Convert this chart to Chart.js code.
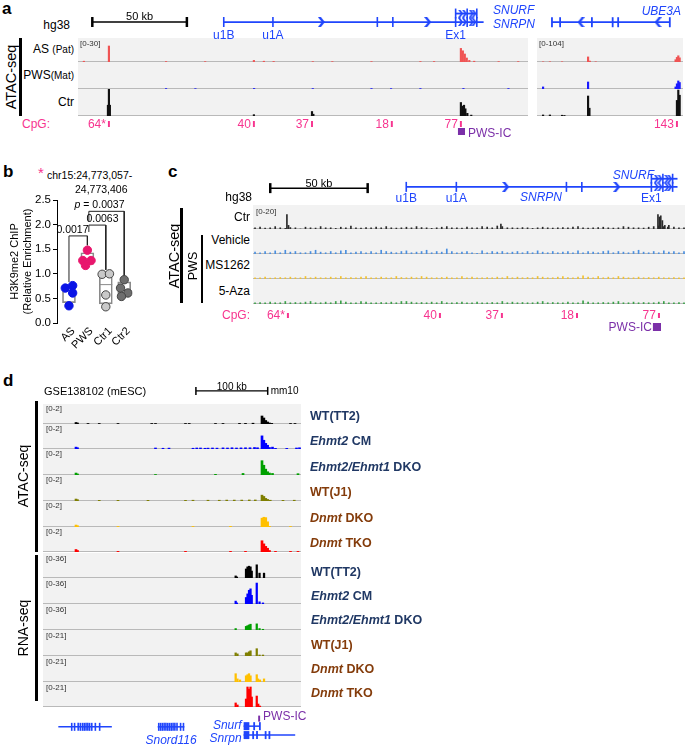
<!DOCTYPE html>
<html><head><meta charset="utf-8">
<script src="https://cdn.jsdelivr.net/npm/chart.js@4.4.1/dist/chart.umd.min.js"></script>
<style>
body{margin:0;background:#fff;}
#root{position:relative;width:685px;height:745px;overflow:hidden;font-family:Arial,"Liberation Sans",Helvetica,sans-serif;color:#000;}
.t{position:absolute;white-space:nowrap;line-height:1;z-index:2;}
canvas{position:absolute;z-index:1;}
</style></head>
<body><div id="root"></div>
<script>
// ================= DATA =================
// ---- panel a (hg38, kb from left edge of each window) ----
const aLeftDomain = [0, 230];
const aRightDomain = [0, 74.6];
const aScaleBarKb = [3.6, 53.6];
const aSnrpnSpan = [73.1, 210.5];
const aSnrpnExons = [73.1, 99.1, 154.3, 162.5, 195.7, 201.8, 206.9];
const aSnrpnArrows = [124.7, 180.9];
const aSnrpnSmallArrows = [198.3, 200.3, 203.9, 205.4];
const aSnurfSpan = [195.7, 206.9];
const aSnurfExons = [195.7, 201.8, 206.9];
const aSnurfSmallArrows = [198.3, 200.3, 203.9, 205.4];
const aUbe3aSpan = [4.6, 71];
const aUbe3aExons = [4.6, 9.2, 27.1, 38.8, 41.9, 71];
const aUbe3aArrows = [21, 64.4];
const aTrackNames = ['AS <span style="font-size:10px">(Pat)</span>', 'PWS<span style="font-size:10px">(Mat)</span>', 'Ctr'];
const aLeftMax = 30, aRightMax = 104;
const aAS_L = [[3,1],[15.8,20],[45,0.6],[65,0.5],[89.9,2],[95,1],[100,0.7],[120,0.5],[130,0.5],[150,0.5],[175,0.6],[182,0.6],[195.7,17],[196.7,14],[197.7,10],[198.7,5],[200,2],[202.5,1],[215,0.5],[225,0.5]];
const aAS_R = [[3.1,0.8],[6.6,1],[12.8,1],[26.1,22],[27,4],[30,1],[70.8,10],[71.5,20],[72.2,27],[72.9,18]];
const aPWS_L = [[45,0.5],[60,0.4],[90,0.6],[120,0.5],[150,0.5],[160,0.4],[175,0.5],[197,0.6],[220,0.5]];
const aPWS_R = [[3.1,8],[26.1,27],[70.8,8],[71.5,20],[72.2,31],[72.9,25]];
const aCtr_L = [[15.3,12],[15.8,30],[16.3,12],[89.9,1.5],[119.6,5],[120.3,2],[195.7,15],[196.5,11],[197.3,12],[198,8],[199,3],[201,1]];
const aCtr_R = [[3.1,4],[6.6,4],[12.8,3],[14,2],[26.1,77],[26.8,30],[71.5,60],[72.2,100],[72.9,80]];
const aCpG_L = [[15.3,16.3],[89.4,90.4],[119.1,120.1],[159.9,160.9],[195.2,196.2]];
const aCpGLabels_L = ['64*','40','37','18','77'];
const aCpG_R = [[71,72]];
const aCpGLabels_R = ['143'];
const aPwsIc = [194.2, 197.8];

// ---- panel b (H3K9me2 ChIP, relative enrichment) ----
const bCats = ['AS', 'PWS', 'Ctr1', 'Ctr2'];
const bAS   = [0.71, 0.76, 0.61, 0.35];
const bPWS  = [1.48, 1.27, 1.27, 1.17];
const bCtr1 = [0.99, 1.00, 0.57, 0.33];
const bCtr2 = [0.88, 0.71, 0.61, 0.54];
const bJitter = [[-0.2, 0.2, 0.2, 0], [0, -0.25, 0.2, -0.1], [-0.2, 0.2, 0, 0], [0, -0.2, 0.2, -0.15]];
const bColors = ['#0a14e6', '#e8176d', '#c9c9c9', '#6e6e6e'];
const bYTicks = [0, 0.5, 1.0, 1.5, 2.0, 2.5];
const bPvals = ['0.0017', '0.0063', '<i>p</i> = 0.0037'];
const bPairs = [[0, 1], [1.08, 2], [1.08, 3]];
const bBracketTop = [1.77, 1.99, 2.27];
const bBracketEnds = [[0.83, 1.58], [1.85, 1.08], [2.07, 0.96]];
const bLabelX = [0.19, 1.82, 1.66];

// ---- panel c (hg38) ----
const cDomain = [0, 214];
const cScaleBarKb = [5, 55];
const cSnrpnSpan = [74.8, 214];
const cSnrpnExons = [74.8, 100.5, 157, 164.9, 200.6, 206.5, 211.5];
const cSnrpnArrows = [125.8, 182.8];
const cSnrpnSmallArrows = [203.1, 205, 208.5, 210];
const cSnurfSpan = [200.6, 214];
const cSnurfExons = [200.6, 206.5, 211.5];
const cSnurfSmallArrows = [203.1, 205, 208.5, 210];
const cTrackNames = ['Ctr', 'Vehicle', 'MS1262', '5-Aza'];
const cMax = 20;
const cNoiseStep = 2.5;
const cCtrNoise = [1,1.5,0.8,1,2,1,0.5,1.2,1,0,1.5,1,0.8,2,1,1,0.5,1.5,1,2.5,1,0.8,1.2,1,1.5,1,2,1,0.8,1,1.5,1,2,1.2,1,0.5,1,1.5,2,1,1,0.8,1.5,1,1,2,1.5,1,2.5,2,1,1,0.8,1.2,1,0.5,1,1.5,1,0.8,1,1.2,1,1.5,2,1,0.8,1,1.2,1.5,1,0.8,1,2,1.5,1,1,0.8,1.5,2,2.5,2,3,1.5,1,1];
const cVehNoise = [1.5,1,2,1,2.5,1,3,1.5,2,1,1,2,3,1.5,1,2,1,2.5,3,1,1.5,2,1,2,1,3,2,1.5,1,2,2.5,1,1.5,2,3,1,2,1.5,4,2,1,1.5,2,1,0.5,2.5,1,2,1.5,2,1,1.5,2,1,2,1,2.5,1.5,1,2,1,1.5,2,1,2.5,1,2,1.5,1,2,2.5,1,2,1.5,1,2,3,1.5,1,2,1,2.5,1.5,2,1,2];
const cMSNoise = [1,1,1.5,0.8,1,1.2,1,1.5,1,1,2,1,1.5,1,1,1.5,1,2,1,1.2,1,1.5,2,1,1,1.5,1,1,2,1.2,1,1.5,1,2,1.5,1,1,1.2,1.5,1,1,2,1,1.5,1,1,1.2,1,1.5,1,2,1,1.5,1,1.2,1,2,1.5,1,1,1.5,2,1.2,1,1.5,2.5,1.5,1,2,1,1.5,1,2,1.5,1,1,1.5,1,1.2,1,1.5,1,1,1.2,1,1];
const cAzaNoise = [1,1.2,1,1.5,1,1,2,1,1.2,1,1.5,2,1,1,1.5,1,2,2.5,1.5,1,1,2,1.5,1,1,1.2,1,1.5,1,2,2,1.5,1,1.2,1,1.5,1,2,1,1,1.2,1.5,1,1,1.5,1,1,1.2,1,2,1,1.5,1,1.2,1,1,1.5,2,1,1.2,1,1,1.5,1,1,2.5,1.5,1,1,1.2,1,1.5,2,1,1,1.5,1,1.2,1,1,1.5,2,1,1,1.2,1];
const cCtrPeaks = [[16.8,12],[17.6,3],[122.8,4],[200.6,12],[201.3,10],[202,11],[202.8,7],[204,3],[205.5,1.5]];
const cCpG = [[16.8,17.8],[92.1,93.1],[122.8,123.8],[160,161],[200.6,201.6]];
const cCpGLabels = ['64*','40','37','18','77'];
const cPwsIc = [198.1, 202.1];

// ---- panel d (mm10) ----
const dDomain = [0, 344];
const dScaleBarKb = [205.3, 305.3];
const dAtacNames = ['WT(TT2)', '<i>Ehmt2</i> CM', '<i>Ehmt2/Ehmt1</i> DKO', 'WT(J1)', '<i>Dnmt</i> DKO', '<i>Dnmt</i> TKO'];
const dNameColors = ['#203864', '#203864', '#203864', '#843c0b', '#843c0b', '#843c0b'];
const dTrackColors = ['#000000', '#0000ff', '#00a000', '#7f7f00', '#ffc000', '#ff0000'];
const dAtacMax = 2;
const dRnaMax = [36, 36, 36, 21, 21, 21];
const dAtac = [
  [[44,0.15],[46,0.1],[60,0.05],[75,0.05],[100,0.05],[145,0.05],[150,0.05],[190,0.05],[195,0.05],[230,0.05],[240,0.05],[262,0.06],[270,0.06],[280,0.08],[292,0.8],[294.5,0.6],[297,0.35],[299.5,0.2],[302,0.1],[305,0.06],[330,0.05],[336,0.05]],
  [[44,0.15],[46,0.1],[150,0.08],[160,0.06],[168,0.07],[200,0.06],[205,0.08],[210,0.08],[216,0.06],[220,0.07],[226,0.08],[232,0.07],[240,0.09],[246,0.08],[252,0.1],[258,0.08],[264,0.09],[270,0.1],[276,0.1],[282,0.12],[286,0.1],[292,1.05],[294.5,0.7],[297,0.45],[299.5,0.3],[302,0.12],[306,0.15],[310,0.05],[325,0.05],[338,0.08],[342,0.1]],
  [[44,0.15],[46,0.08],[150,0.04],[230,0.05],[266.7,0.12],[292,1.1],[294.5,0.75],[297,0.45],[299.5,0.25],[302,0.15],[306,0.12],[340,0.1]],
  [[44,0.15],[46,0.1],[75,0.05],[100,0.05],[140,0.05],[190,0.05],[200,0.06],[220,0.06],[235,0.06],[245,0.07],[255,0.07],[265,0.07],[275,0.08],[283,0.08],[292,0.45],[294.5,0.35],[297,0.2],[299.5,0.12],[303,0.06],[320,0.05],[335,0.06]],
  [[44,0.15],[46,0.1],[100,0.04],[200,0.04],[250,0.05],[292,0.68],[294.5,0.75],[297,0.72],[299.5,0.4],[302,0.05],[330,0.04]],
  [[44,0.2],[46,0.12],[100,0.05],[190,0.05],[250,0.05],[270,0.05],[292,0.9],[294.5,0.65],[297,0.45],[299.5,0.3],[302,0.12],[310,0.05],[330,0.05],[340,0.05]]
];
const dRna = [
  [[256.9,3],[258.5,1.5],[270.7,13],[272.7,16],[274.7,17],[276.7,16],[278.3,10],[285,19],[288.7,7],[294.7,7]],
  [[256.9,4],[258.5,1.5],[270.7,9],[272.7,14],[274.7,19],[276.7,21],[278.3,12],[285,29],[288.7,3],[293.3,1.5]],
  [[256.9,2],[270.7,5],[272.7,6],[274.7,7],[276.7,8],[285,8.5],[288.7,2],[293.3,1]],
  [[256.9,2.5],[259.3,1.7],[270.7,2.5],[272.7,2.5],[274.7,3.4],[276.7,4.2],[285,5.9],[288.7,0.8],[293.3,0.8]],
  [[256.9,6.7],[259.3,2.5],[262.7,1.7],[270.7,5],[272.7,5.9],[274.7,6.7],[276.7,5],[285,5.9],[286.7,2.5],[289.3,1.7],[294.7,2.5]],
  [[256.9,3.4],[259.3,1.7],[270.7,6.7],[272.7,16.8],[274.7,15],[276.7,16.8],[278.3,8.4],[285,9.2],[287,2.5],[289.3,0.8]]
];
const dPwsIc = [292.3, 295];
const dGene1Span = [13.3, 88];
const dGene1Exons = [32, 36, 41, 44, 47, 49.5, 52, 54.5, 57, 60, 65, 71];
const dSnord116Span = [152, 189.3];
const dSnord116Exons = [153.5, 156, 158.5, 161, 163.5, 166, 168.5, 171, 173.5, 176, 179, 184, 188];
const dSnurfBlock = [272, 280], dSnurfSpan = [272, 294.7], dSnurfExons = [286.7, 294.7];
const dSnrpnBlock = [272, 280], dSnrpnSpan = [272, 344], dSnrpnExons = [285.3, 290.7, 302.7, 308];

// ================= STYLE / HELPERS =================
const BLUE = '#1f45fc', PINK = '#f7348f', PURPLE = '#7b2fa8';
Chart.defaults.font.family = 'Arial, "Liberation Sans", Helvetica, sans-serif';
Chart.defaults.plugins.legend.display = false;
Chart.defaults.plugins.tooltip.enabled = false;
Chart.defaults.animation = false;
const root = document.getElementById('root');

function T(x, y, html, o = {}) {
  const d = document.createElement('div'); d.className = 't'; d.innerHTML = html;
  d.style.left = x + 'px'; d.style.top = y + 'px'; d.style.fontSize = (o.fs || 12) + 'px';
  if (o.c) d.style.color = o.c; if (o.b) d.style.fontWeight = 'bold'; if (o.i) d.style.fontStyle = 'italic';
  const tx = o.a === 'r' ? '-100%' : (o.a === 'c' ? '-50%' : '0');
  if (o.rotEnd) { d.style.transformOrigin = '100% 50%'; d.style.transform = `translate(-100%,-50%) rotate(${o.rotEnd}deg)`; }
  else d.style.transform = o.rot ? `translate(-50%,-50%) rotate(${o.rot}deg)` : `translate(${tx},-50%)`;
  root.appendChild(d); return d;
}
function R(x, y, w, h, c) {
  const d = document.createElement('div');
  d.style.cssText = `position:absolute;left:${x}px;top:${y}px;width:${w}px;height:${h}px;background:${c};z-index:2`;
  root.appendChild(d);
}
function C(x, y, w, h, cfg) {
  const c = document.createElement('canvas'); c.width = w; c.height = h;
  c.style.left = x + 'px'; c.style.top = y + 'px'; c.style.width = w + 'px'; c.style.height = h + 'px';
  root.appendChild(c);
  cfg.options = Object.assign({ responsive: false, animation: false, devicePixelRatio: 1, events: [] }, cfg.options || {});
  const ch = new Chart(c, cfg); ch._x = x; ch._y = y; return ch;
}
const trackBg = { id: 'trackBg', beforeDatasetsDraw(chart, args, o) {
  const { ctx, chartArea: a } = chart; ctx.save();
  ctx.fillStyle = o.bg; ctx.fillRect(a.left, a.top, a.right - a.left, a.bottom - a.top);
  ctx.fillStyle = o.line; ctx.fillRect(a.left, a.bottom - 1, a.right - a.left, 1);
  ctx.restore(); } };
function track(x, y, w, h, dom, max, peaks, color, bt) {
  return C(x, y, w, h, { type: 'bar',
    data: { datasets: [{ data: peaks.map(p => ({ x: p[0], y: Math.min(p[1], max) })), backgroundColor: color, barThickness: bt || 1.5 }] },
    options: { layout: { padding: 0 }, scales: { x: { type: 'linear', offset: false, min: dom[0], max: dom[1], display: false }, y: { min: 0, max: max, display: false } },
      plugins: { trackBg: { bg: '#f2f2f2', line: '#b9b9b9' } } },
    plugins: [trackBg] });
}
function chevron(color, dir, w, h, t) {
  const c = document.createElement('canvas'); c.width = w; c.height = h; const g = c.getContext('2d'); g.fillStyle = color; g.beginPath();
  if (dir > 0) { g.moveTo(0, 0); g.lineTo(t, 0); g.lineTo(w, h / 2); g.lineTo(t, h); g.lineTo(0, h); g.lineTo(w - t, h / 2); }
  else { g.moveTo(w, 0); g.lineTo(w - t, 0); g.lineTo(0, h / 2); g.lineTo(w - t, h); g.lineTo(w, h); g.lineTo(t, h / 2); }
  g.closePath(); g.fill(); return c;
}
const chevR = chevron(BLUE, 1, 7, 10, 3), chevL = chevron(BLUE, -1, 7, 10, 3), chevS = chevron(BLUE, 1, 5, 8, 2.2);
const segDS = (x0, x1, lane, color, width) => ({ type: 'line', data: [{ x: x0, y: lane }, { x: x1, y: lane }], borderColor: color, borderWidth: width, pointRadius: 0, borderCapStyle: 'butt', clip: false });
const tickDS = (xs, lane, color, half, width) => ({ type: 'scatter', data: xs.map(v => ({ x: v, y: lane })), pointStyle: 'line', rotation: 90, radius: half, borderColor: color, borderWidth: width, clip: false });
const chevDS = (xs, lane, img) => ({ type: 'scatter', data: xs.map(v => ({ x: v, y: lane })), pointStyle: img, radius: 3, clip: false });
function annot(x, y, w, h, dom, ds) {
  return C(x, y, w, h, { type: 'scatter', data: { datasets: ds },
    options: { layout: { padding: 0 }, scales: { x: { type: 'linear', min: dom[0], max: dom[1], display: false }, y: { type: 'linear', min: 0, max: h, reverse: true, display: false } } } });
}
const px = (ch, v) => ch._x + ch.scales.x.getPixelForValue(v);

// ================= PANEL a =================
T(2, 8, 'a', { fs: 17, b: 1 });
T(70, 25, 'hg38', { a: 'r', fs: 12 });
const gaL = annot(78, 0, 450, 38, aLeftDomain, [
  segDS(aScaleBarKb[0], aScaleBarKb[1], 24, '#000', 1.5), tickDS(aScaleBarKb, 24, '#000', 5, 2.5),
  segDS(aSnrpnSpan[0], aSnrpnSpan[1], 24, BLUE, 1.8), tickDS(aSnrpnExons, 24, BLUE, 5, 1.6), chevDS(aSnrpnArrows, 24, chevR), chevDS(aSnrpnSmallArrows, 24, chevS),
  segDS(aSnurfSpan[0], aSnurfSpan[1], 10, BLUE, 1.8), tickDS(aSnurfExons, 10, BLUE, 5, 1.6), chevDS(aSnurfSmallArrows, 10, chevS)
]);
const gaR = annot(537, 0, 146, 38, aRightDomain, [
  segDS(aUbe3aSpan[0], aUbe3aSpan[1], 24, BLUE, 1.8), tickDS(aUbe3aExons, 24, BLUE, 5, 1.8), chevDS(aUbe3aArrows, 24, chevL)
]);
T((px(gaL, aScaleBarKb[0]) + px(gaL, aScaleBarKb[1])) / 2, 16, '50 kb', { a: 'c', fs: 11 });
T(px(gaL, aSnrpnExons[0]), 35, 'u1B', { a: 'c', c: BLUE, fs: 12 });
T(px(gaL, aSnrpnExons[1]), 35, 'u1A', { a: 'c', c: BLUE, fs: 12 });
T(px(gaL, aSnrpnExons[4]), 35, 'Ex1', { a: 'c', c: BLUE, fs: 12 });
T(493, 10, 'SNURF', { c: BLUE, i: 1, fs: 12 });
T(493, 24, 'SNRPN', { c: BLUE, i: 1, fs: 12 });
T(681, 11, 'UBE3A', { a: 'r', c: BLUE, i: 1, fs: 12 });
const aTops = [38, 62, 89], aHs = [24, 27, 27];
const aL = [aAS_L, aPWS_L, aCtr_L], aR = [aAS_R, aPWS_R, aCtr_R], aCols = ['#f05454', '#1a1aff', '#111111'];
aTops.forEach((t, i) => {
  track(78, t, 450, aHs[i], aLeftDomain, aLeftMax, aL[i], aCols[i], 1.5);
  track(537, t, 146, aHs[i], aRightDomain, aRightMax, aR[i], aCols[i], 1.5);
  T(74, t + aHs[i] / 2 - 1, aTrackNames[i], { a: 'r', fs: 12 });
});
T(80, 44, '[0-30]', { fs: 8, c: '#333' });
T(539, 44, '[0-104]', { fs: 8, c: '#333' });
T(11, 77, 'ATAC-seq', { rot: -90, fs: 14.5 });
R(19, 38, 2.5, 78, '#000');
const caL = annot(78, 116, 450, 24, aLeftDomain, [...aCpG_L.map(s => segDS(s[0], s[1], 8, PINK, 6)), segDS(aPwsIc[0], aPwsIc[1], 15.5, PURPLE, 7)]);
const caR = annot(537, 116, 146, 24, aRightDomain, aCpG_R.map(s => segDS(s[0], s[1], 8, PINK, 6)));
T(22, 124, 'CpG:', { c: PINK, fs: 12 });
aCpG_L.forEach((s, i) => T(px(caL, s[0]) - 2, 124, aCpGLabels_L[i], { a: 'r', c: PINK, fs: 12 }));
aCpG_R.forEach((s, i) => T(px(caR, s[0]) - 2, 124, aCpGLabels_R[i], { a: 'r', c: PINK, fs: 12 }));
T(px(caL, aPwsIc[1]) + 3, 133, 'PWS-IC', { c: PURPLE, fs: 12 });

// ================= PANEL b =================
T(3, 171, 'b', { fs: 17, b: 1 });
T(38, 172, '*', { c: PINK, fs: 15 });
T(47, 175, 'chr15:24,773,057-', { fs: 10.5 });
T(75, 189, '24,773,406', { fs: 10.5 });
function quart(arr, p) {
  const s = [...arr].sort((a, b) => a - b), n = s.length, pos = p * (n + 1) - 1, lo = Math.floor(pos), f = pos - lo;
  if (lo < 0) return s[0]; if (lo >= n - 1) return s[n - 1]; return s[lo] + f * (s[lo + 1] - s[lo]);
}
const bGroups = [bAS, bPWS, bCtr1, bCtr2];
const bDatasets = [
  { type: 'bar', data: bGroups.map((g, i) => ({ x: i, y: [quart(g, 0.25), quart(g, 0.75)] })), backgroundColor: 'rgba(255,255,255,0)', borderColor: '#8a8a8a', borderWidth: 1, borderSkipped: false, barThickness: 13, order: 3 },
  { type: 'scatter', data: bGroups.map((g, i) => ({ x: i, y: quart(g, 0.5) })), pointStyle: 'line', radius: 6.5, borderColor: '#8a8a8a', borderWidth: 1, order: 2 },
  ...bGroups.map((g, i) => ({ type: 'scatter', data: g.map((v, j) => ({ x: i + bJitter[i][j], y: v })), pointRadius: 4.2, backgroundColor: bColors[i], borderColor: i >= 2 ? '#444' : bColors[i], borderWidth: 1, order: 0 })),
  ...bPairs.map((p, k) => ({ type: 'line', data: [{ x: p[0], y: bBracketEnds[k][0] }, { x: p[0], y: bBracketTop[k] }, { x: p[1], y: bBracketTop[k] }, { x: p[1], y: bBracketEnds[k][1] }], borderColor: '#222', borderWidth: 1, pointRadius: 0, tension: 0, clip: false, order: 1 }))
];
const bChart = C(0, 190, 140, 155, { type: 'scatter', data: { datasets: bDatasets },
  options: { layout: { padding: { top: 10, right: 5, left: 0, bottom: 22 } },
    scales: {
      x: { type: 'linear', offset: false, min: -0.65, max: 3.45, display: false },
      y: { type: 'linear', offset: false, min: 0, max: 2.5, afterBuildTicks: s => { s.ticks = bYTicks.map(v => ({ value: v })); },
        ticks: { callback: v => v.toFixed(1), font: { size: 11.5 }, color: '#000', padding: 2 },
        grid: { drawOnChartArea: false, tickLength: 4, color: '#000' }, border: { display: true, color: '#000', width: 1 },
        title: { display: true, text: ['H3K9me2 ChIP', '(Relative Enrichment)'], font: { size: 11 }, color: '#000', padding: { top: 8, bottom: 0 } },
        afterFit: s => { s.width = 57; } }
    } } });
bPvals.forEach((lab, k) => {
  T(bChart._x + bChart.scales.x.getPixelForValue(bLabelX[k]), bChart._y + bChart.scales.y.getPixelForValue(bBracketTop[k]) - 7, lab, { a: 'c', fs: 10.5 });
});
bCats.forEach((c, i) => {
  T(bChart._x + bChart.scales.x.getPixelForValue(i) + 4, bChart._y + bChart.chartArea.bottom + 6, c, { rotEnd: -45, fs: 11 });
});

// ================= PANEL c =================
T(168, 171, 'c', { fs: 17, b: 1 });
T(252, 197, 'hg38', { a: 'r', fs: 12 });
const gc = annot(253, 165, 432, 40, cDomain, [
  segDS(cScaleBarKb[0], cScaleBarKb[1], 25, '#000', 1.5), tickDS(cScaleBarKb, 25, '#000', 5, 2.5),
  segDS(cSnrpnSpan[0], cSnrpnSpan[1], 23, BLUE, 1.8), tickDS(cSnrpnExons, 23, BLUE, 5, 1.6), chevDS(cSnrpnArrows, 23, chevR), chevDS(cSnrpnSmallArrows, 23, chevS),
  segDS(cSnurfSpan[0], cSnurfSpan[1], 10, BLUE, 1.8), tickDS(cSnurfExons, 10, BLUE, 5, 1.6), chevDS(cSnurfSmallArrows, 10, chevS)
]);
T((px(gc, cScaleBarKb[0]) + px(gc, cScaleBarKb[1])) / 2, 183, '50 kb', { a: 'c', fs: 11 });
T(px(gc, cSnrpnExons[0]), 198, 'u1B', { a: 'c', c: BLUE, fs: 12 });
T(px(gc, cSnrpnExons[1]), 198, 'u1A', { a: 'c', c: BLUE, fs: 12 });
T(px(gc, cSnrpnExons[4]), 198, 'Ex1', { a: 'c', c: BLUE, fs: 12 });
T(541, 197, 'SNRPN', { a: 'c', c: BLUE, i: 1, fs: 12 });
T(654, 175, 'SNURF', { a: 'r', c: BLUE, i: 1, fs: 12 });
const cTops = [205, 229, 254, 279], cHs = [24, 25, 25, 25];
const cNoise = [cCtrNoise, cVehNoise, cMSNoise, cAzaNoise];
const cCols = ['#2a2a2a', '#4a8fe0', '#f2c12e', '#3aa048'];
cTops.forEach((t, i) => {
  const pk = cNoise[i].map((v, j) => [j * cNoiseStep + 1, v]).concat(i === 0 ? cCtrPeaks : []);
  track(253, t, 432, cHs[i], cDomain, cMax, pk, cCols[i], 1);
  T(250, [217, 240, 265, 291][i], cTrackNames[i], { a: 'r', fs: 12 });
});
T(256, 212, '[0-20]', { fs: 8, c: '#333' });
T(174, 256, 'ATAC-seq', { rot: -90, fs: 14.5 });
R(180, 208, 2.5, 95, '#000');
T(193, 266, 'PWS', { rot: -90, fs: 12.5 });
R(201, 235, 1.5, 68, '#000');
const cc = annot(253, 307, 432, 26, cDomain, [...cCpG.map(s => segDS(s[0], s[1], 8.5, PINK, 5)), segDS(cPwsIc[0], cPwsIc[1], 20, PURPLE, 8)]);
T(222, 315, 'CpG:', { c: PINK, fs: 12 });
cCpG.forEach((s, i) => T(px(cc, s[0]) - 2, 315, cCpGLabels[i], { a: 'r', c: PINK, fs: 12 }));
T(px(cc, cPwsIc[0]) - 1, 327, 'PWS-IC', { a: 'r', c: PURPLE, fs: 12 });

// ================= PANEL d =================
T(3, 380, 'd', { fs: 17, b: 1 });
T(44, 391, 'GSE138102 (mESC)', { fs: 11 });
const sd = annot(43, 380, 258, 20, dDomain, [segDS(dScaleBarKb[0], dScaleBarKb[1], 12, '#000', 1.3), tickDS(dScaleBarKb, 12, '#000', 4, 1.5)]);
T((px(sd, dScaleBarKb[0]) + px(sd, dScaleBarKb[1])) / 2, 387, '100 kb', { a: 'c', fs: 10 });
T(px(sd, dScaleBarKb[1]) + 3, 391, 'mm10', { fs: 10 });
const dAtacTops = [404, 424, 449, 475, 501, 527], dAtacHs = [20, 25, 26, 26, 26, 25];
const dRnaTops = [553, 578, 604, 630, 656, 682], dRnaHs = [25, 26, 26, 26, 26, 25];
const dAtacLabY = [416, 441, 467, 492, 518, 543], dRnaLabY = [572, 596, 620, 645, 669, 693];
dAtacTops.forEach((t, i) => {
  track(43, t, 258, dAtacHs[i], dDomain, dAtacMax, dAtac[i], dTrackColors[i], 2);
  T(46, t + 5, '[0-2]', { fs: 8, c: '#333' });
  T(310, dAtacLabY[i], dAtacNames[i], { b: 1, c: dNameColors[i], fs: 12.5 });
});
dRnaTops.forEach((t, i) => {
  track(43, t, 258, dRnaHs[i], dDomain, dRnaMax[i], dRna[i], dTrackColors[i], 1.6);
  T(46, t + 6, '[0-' + dRnaMax[i] + ']', { fs: 8, c: '#333' });
  T(311, dRnaLabY[i], dAtacNames[i], { b: 1, c: dNameColors[i], fs: 12.5 });
});
T(23, 476, 'ATAC-seq', { rot: -90, fs: 14 });
R(35, 401, 2.5, 151, '#000');
T(23, 628, 'RNA-seq', { rot: -90, fs: 14 });
R(35, 555, 2.5, 146, '#000');
const gd = annot(43, 708, 258, 37, dDomain, [
  segDS(dPwsIc[0], dPwsIc[1], 7, PURPLE, 6),
  segDS(dGene1Span[0], dGene1Span[1], 19, BLUE, 1.5), tickDS(dGene1Exons, 19, BLUE, 4, 1.6),
  segDS(dSnord116Span[0], dSnord116Span[1], 19, BLUE, 1.5), tickDS(dSnord116Exons, 19, BLUE, 4, 1.6),
  segDS(dSnurfSpan[0], dSnurfSpan[1], 18, BLUE, 1.5), segDS(dSnurfBlock[0], dSnurfBlock[1], 18, BLUE, 8), tickDS(dSnurfExons, 18, BLUE, 4, 1.8),
  segDS(dSnrpnSpan[0], dSnrpnSpan[1], 31, BLUE, 1.5), segDS(dSnrpnBlock[0], dSnrpnBlock[1], 31, BLUE, 8), tickDS(dSnrpnExons, 31, BLUE, 4, 1.8)
]);
T(px(gd, dPwsIc[1]) + 3, 716, 'PWS-IC', { c: PURPLE, fs: 12 });
T((px(gd, dSnord116Span[0]) + px(gd, dSnord116Span[1])) / 2, 740, 'Snord116', { a: 'c', c: BLUE, i: 1, fs: 12 });
T(px(gd, dSnurfBlock[0]) - 2, 725, 'Snurf', { a: 'r', c: BLUE, i: 1, fs: 12 });
T(px(gd, dSnrpnBlock[0]) - 2, 738, 'Snrpn', { a: 'r', c: BLUE, i: 1, fs: 12 });
</script>
</body></html>
